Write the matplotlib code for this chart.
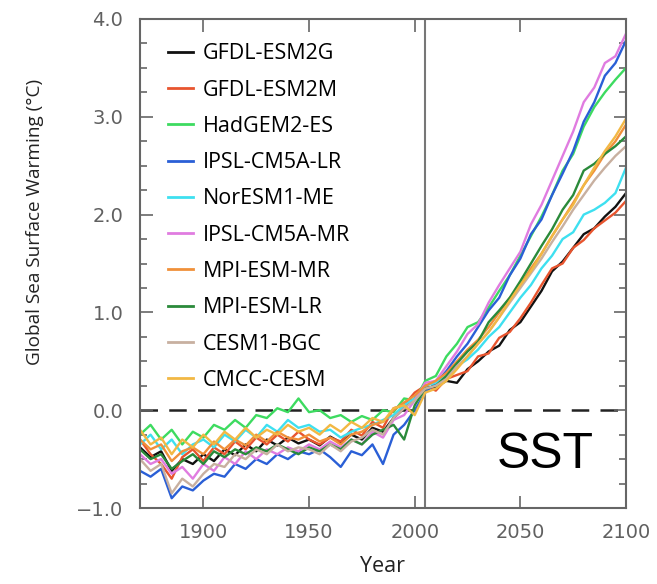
import matplotlib
matplotlib.use("Agg")
import matplotlib.pyplot as plt
from matplotlib.ticker import MultipleLocator

years = [1870, 1875, 1880, 1885, 1890, 1895, 1900, 1905, 1910, 1915, 1920, 1925,
         1930, 1935, 1940, 1945, 1950, 1955, 1960, 1965, 1970, 1975, 1980, 1985,
         1990, 1995, 2000, 2005, 2010, 2015, 2020, 2025, 2030, 2035, 2040, 2045,
         2050, 2055, 2060, 2065, 2070, 2075, 2080, 2085, 2090, 2095, 2100]

models = ["GFDL-ESM2G", "GFDL-ESM2M", "HadGEM2-ES", "IPSL-CM5A-LR", "NorESM1-ME",
          "IPSL-CM5A-MR", "MPI-ESM-MR", "MPI-ESM-LR", "CESM1-BGC", "CMCC-CESM"]

colors = ["#111111", "#e8552f", "#3ddb60", "#2a5fd6", "#3ee0f0",
          "#e07ce0", "#f0903a", "#2a8a3a", "#c8b0a0", "#f2b844"]

gfdl_esm2g = [-0.38, -0.48, -0.42, -0.62, -0.50, -0.55, -0.45, -0.52, -0.40, -0.46, -0.35, -0.42,
              -0.30, -0.36, -0.28, -0.34, -0.30, -0.36, -0.27, -0.33, -0.25, -0.30, -0.18, -0.22,
              -0.08, 0.02, 0.12, 0.22, 0.24, 0.30, 0.28, 0.42, 0.50, 0.60, 0.66, 0.82,
              0.90, 1.06, 1.22, 1.42, 1.52, 1.66, 1.80, 1.86, 1.98, 2.08, 2.22]
gfdl_esm2m = [-0.30, -0.45, -0.55, -0.70, -0.48, -0.40, -0.52, -0.38, -0.45, -0.32, -0.40, -0.28,
              -0.35, -0.25, -0.32, -0.22, -0.30, -0.35, -0.28, -0.32, -0.20, -0.26, -0.12, -0.18,
              0.02, 0.05, 0.18, 0.25, 0.20, 0.32, 0.36, 0.40, 0.55, 0.58, 0.74, 0.80,
              0.94, 1.10, 1.28, 1.45, 1.50, 1.66, 1.74, 1.86, 1.94, 2.02, 2.14]
hadgem2_es = [-0.25, -0.15, -0.30, -0.20, -0.35, -0.22, -0.28, -0.15, -0.20, -0.10, -0.18, -0.05,
              -0.08, 0.02, -0.02, 0.12, -0.02, 0.00, -0.08, -0.05, -0.12, -0.06, -0.10, 0.00,
              -0.02, 0.12, 0.10, 0.30, 0.35, 0.55, 0.68, 0.85, 0.90, 1.05, 1.22, 1.38,
              1.58, 1.78, 1.98, 2.20, 2.45, 2.62, 2.90, 3.10, 3.25, 3.38, 3.50]
ipsl_lr = [-0.62, -0.68, -0.60, -0.90, -0.78, -0.82, -0.72, -0.65, -0.68, -0.55, -0.60, -0.50,
           -0.55, -0.45, -0.50, -0.42, -0.45, -0.40, -0.48, -0.58, -0.42, -0.46, -0.35, -0.55,
           -0.25, -0.15, 0.00, 0.18, 0.28, 0.40, 0.55, 0.68, 0.85, 1.02, 1.15, 1.38,
           1.55, 1.80, 1.95, 2.20, 2.42, 2.65, 2.95, 3.15, 3.42, 3.55, 3.78]
noresm1_me = [-0.35, -0.25, -0.40, -0.30, -0.45, -0.35, -0.30, -0.38, -0.25, -0.32, -0.20, -0.28,
              -0.15, -0.22, -0.10, -0.18, -0.15, -0.22, -0.20, -0.28, -0.22, -0.18, -0.15, -0.10,
              -0.05, 0.05, 0.12, 0.25, 0.28, 0.35, 0.45, 0.52, 0.62, 0.75, 0.85, 1.00,
              1.15, 1.28, 1.45, 1.58, 1.75, 1.82, 2.00, 2.05, 2.12, 2.22, 2.48]
ipsl_mr = [-0.45, -0.55, -0.50, -0.65, -0.58, -0.70, -0.55, -0.62, -0.48, -0.55, -0.42, -0.50,
           -0.40, -0.45, -0.38, -0.42, -0.35, -0.40, -0.32, -0.38, -0.30, -0.35, -0.22, -0.28,
           -0.10, -0.05, 0.10, 0.28, 0.30, 0.45, 0.60, 0.78, 0.88, 1.10, 1.28, 1.45,
           1.62, 1.90, 2.10, 2.35, 2.60, 2.85, 3.15, 3.30, 3.55, 3.62, 3.85]
mpi_mr = [-0.30, -0.40, -0.35, -0.52, -0.42, -0.38, -0.45, -0.32, -0.40, -0.30, -0.36, -0.25,
          -0.32, -0.22, -0.28, -0.30, -0.25, -0.32, -0.28, -0.35, -0.25, -0.22, -0.15, -0.12,
          0.00, 0.08, 0.15, 0.25, 0.30, 0.38, 0.50, 0.62, 0.72, 0.85, 1.00, 1.15,
          1.28, 1.45, 1.60, 1.78, 1.95, 2.12, 2.30, 2.45, 2.62, 2.75, 2.92]
mpi_lr = [-0.40, -0.50, -0.45, -0.60, -0.52, -0.45, -0.55, -0.42, -0.48, -0.40, -0.45, -0.38,
          -0.42, -0.35, -0.40, -0.45, -0.38, -0.42, -0.35, -0.40, -0.30, -0.35, -0.25, -0.20,
          -0.15, -0.30, 0.05, 0.22, 0.25, 0.35, 0.48, 0.60, 0.70, 0.90, 1.02, 1.15,
          1.32, 1.50, 1.68, 1.85, 2.05, 2.20, 2.45, 2.52, 2.62, 2.70, 2.80]
cesm1_bgc = [-0.50, -0.62, -0.55, -0.85, -0.70, -0.78, -0.65, -0.55, -0.58, -0.45, -0.50, -0.40,
             -0.45, -0.35, -0.42, -0.38, -0.40, -0.45, -0.35, -0.42, -0.32, -0.28, -0.20, -0.25,
             -0.08, 0.02, 0.10, 0.22, 0.25, 0.32, 0.45, 0.55, 0.68, 0.80, 0.95, 1.10,
             1.25, 1.40, 1.55, 1.72, 1.88, 2.05, 2.20, 2.35, 2.48, 2.60, 2.70]
cmcc_cesm = [-0.20, -0.35, -0.28, -0.45, -0.30, -0.38, -0.25, -0.35, -0.22, -0.30, -0.18, -0.28,
             -0.20, -0.25, -0.15, -0.22, -0.18, -0.25, -0.15, -0.22, -0.12, -0.18, -0.08, -0.12,
             0.02, 0.05, -0.05, 0.18, 0.22, 0.30, 0.42, 0.55, 0.68, 0.80, 0.95, 1.12,
             1.28, 1.42, 1.60, 1.78, 1.95, 2.10, 2.30, 2.48, 2.65, 2.80, 2.98]

series = [gfdl_esm2g, gfdl_esm2m, hadgem2_es, ipsl_lr, noresm1_me,
          ipsl_mr, mpi_mr, mpi_lr, cesm1_bgc, cmcc_cesm]

plt.rcParams['font.family'] = ['Open Sans', 'DejaVu Sans']

fig = plt.figure(figsize=(6.57, 5.84), dpi=100)
ax = fig.add_axes([140 / 657, 1 - 508 / 584, (626 - 140) / 657, (508 - 19) / 584])

for name, vals, c in zip(models, series, colors):
    ax.plot(years, vals, color=c, lw=1.7, label=name)

ax.axhline(0, color="#222222", lw=1.8, dashes=(7, 4.5), zorder=1)
ax.axvline(2005, color="#777777", lw=1.5, zorder=1)

ax.set_xlim(1870, 2100)
ax.set_ylim(-1.0, 4.0)
ax.set_xticks([1900, 1950, 2000, 2050, 2100])
ax.set_yticks([-1, 0, 1, 2, 3, 4])
ax.yaxis.set_minor_locator(MultipleLocator(0.25))
ax.set_yticklabels(["\u22121.0", "0.0", "1.0", "2.0", "3.0", "4.0"])
ax.tick_params(axis='both', which='major', direction='in', length=9, width=1.2,
               color="#666666", labelcolor="#606060", labelsize=14, top=True, right=True)
ax.tick_params(axis='y', which='major', pad=12)
ax.tick_params(axis='x', which='major', pad=11)
ax.tick_params(axis='both', which='minor', direction='in', length=5, width=1.2,
               color="#666666", top=True, right=True)
for lab in ax.get_xticklabels() + ax.get_yticklabels():
    lab.set_family("DejaVu Sans")
for s in ax.spines.values():
    s.set_color("#666666")
    s.set_linewidth(1.5)

ax.set_xlabel("Year", fontsize=15.5, color="#222222", labelpad=10)
fig.text(35 / 657, 1 - 222 / 584, "Global Sea Surface Warming (\u00b0C)", rotation=90,
         ha="center", va="center", fontsize=13.7, color="#222222")

ax.text(0.735, 0.108, "SST", transform=ax.transAxes, fontsize=36,
        family="Liberation Sans", color="black", ha="left", va="center")

leg = ax.legend(loc="upper left", frameon=False, fontsize=15.5, handlelength=1.16,
                handletextpad=0.47, labelspacing=0.71, borderaxespad=0.0,
                bbox_to_anchor=(0.039, 0.968))
for line in leg.get_lines():
    line.set_linewidth(2.0)

fig.savefig("out.png", dpi=100)
